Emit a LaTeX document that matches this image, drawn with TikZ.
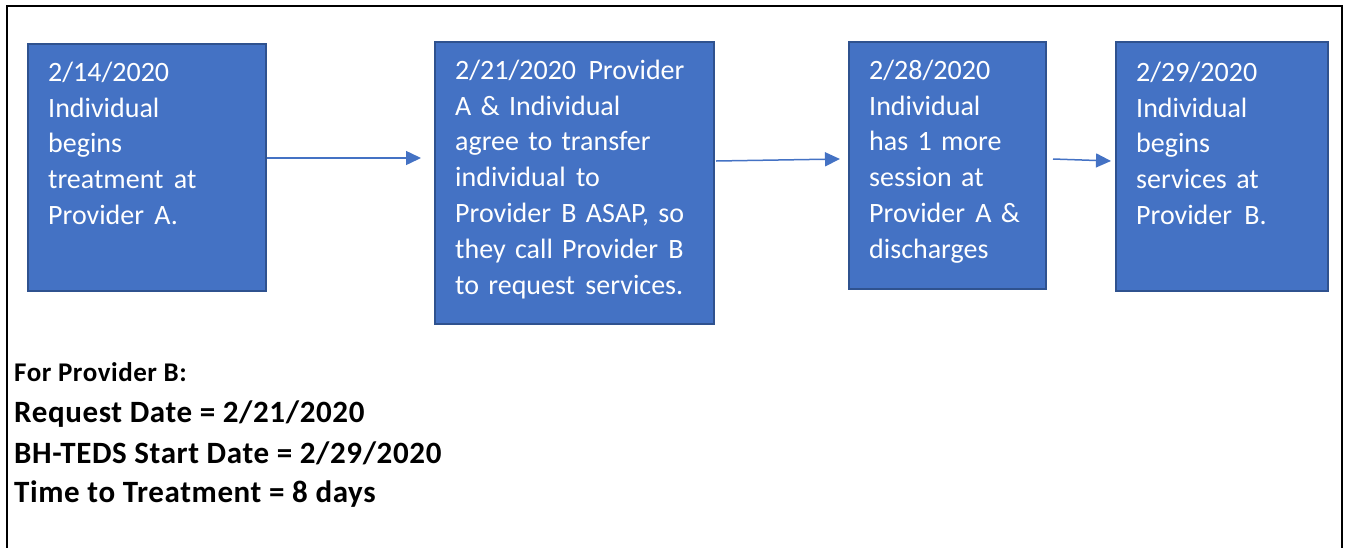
\documentclass[tikz,border=0pt]{standalone}
\usepackage{fontspec}
\setmainfont{Carlito}
\newfontfamily\notefont[LetterSpace=2]{Carlito}
\usetikzlibrary{arrows.meta}
\definecolor{boxfill}{HTML}{4472C4}
\definecolor{boxline}{HTML}{2F528F}
\tikzset{
  stepbox/.style={draw=boxline, line width=1.6pt, fill=boxfill, anchor=north west, inner sep=0pt},
  boxtext/.style={anchor=north west, inner sep=0pt, text=white, align=left, text width=260pt,
    font=\fontsize{28}{35.8}\selectfont},
  flow/.style={draw=boxfill, line width=1.5pt, -{Triangle[length=15pt,width=14pt]}},
  notetext/.style={anchor=base west, inner sep=0pt, font=\notefont\bfseries\fontsize{31}{36}\selectfont},
  notehead/.style={anchor=base west, inner sep=0pt, font=\notefont\bfseries\fontsize{27}{32}\selectfont}
}
\begin{document}
\begin{tikzpicture}[x=1pt,y=-1pt]
\useasboundingbox (0,0) rectangle (1347,547);
% outer frame (open at bottom)
\draw[line width=2.5pt, black] (7,560) -- (7,6) -- (1342,6) -- (1342,560);
% boxes
\node[stepbox, minimum width=238pt, minimum height=247pt] (b1) at (27,43) {};
\node[stepbox, minimum width=279pt, minimum height=282pt] (b2) at (434,41) {};
\node[stepbox, minimum width=197pt, minimum height=247pt] (b3) at (848,41) {};
\node[stepbox, minimum width=212pt, minimum height=249pt] (b4) at (1115,41) {};
% texts
\node[boxtext] (t1) at (48,56) {\strut 2/14/2020\\Individual\\begins\\treatment\ \hspace{1pt}at\\Provider\ \hspace{1pt}A.};
\node[boxtext] (t2) at (455,54) {\strut 2/21/2020\ \hspace{3pt}Provider\\A \& Individual\\agree to transfer\\individual\ \hspace{1pt}to\\Provider\ \hspace{1pt}B ASAP,\ so\\they call Provider\ \hspace{1pt}B\\to request\ \hspace{1pt}services.};
\node[boxtext] (t3) at (869,54) {\strut 2/28/2020\\Individual\\has 1 more\\session at\\Provider\ \hspace{1pt}A \&\\discharges};
\node[boxtext] (t4) at (1136,56) {\strut 2/29/2020\\Individual\\begins\\services at\\Provider\ \hspace{3pt}B.};
% arrows
\coordinate (a1s) at (265,158);
\coordinate (a1e) at (421,158);
\draw[flow] (b1.east |- a1s) -- (a1e);
\coordinate (a2s) at (716,161);
\coordinate (a2e) at (840,159);
\draw[flow] (a2s) -- (a2e);
\coordinate (a3s) at (1053,159);
\coordinate (a3e) at (1111,161);
\draw[flow] (a3s) -- (a3e);
% notes
\node[notehead] (n0) at (14,381) {For Provider B:};
\node[notetext] (n1) at (14,422) {Request Date = 2/21/2020};
\node[notetext] (n2) at (14,463) {BH-TEDS Start Date = 2/29/2020};
\node[notetext] (n3) at (14,502) {Time to Treatment = 8 days};
\end{tikzpicture}
\end{document}
